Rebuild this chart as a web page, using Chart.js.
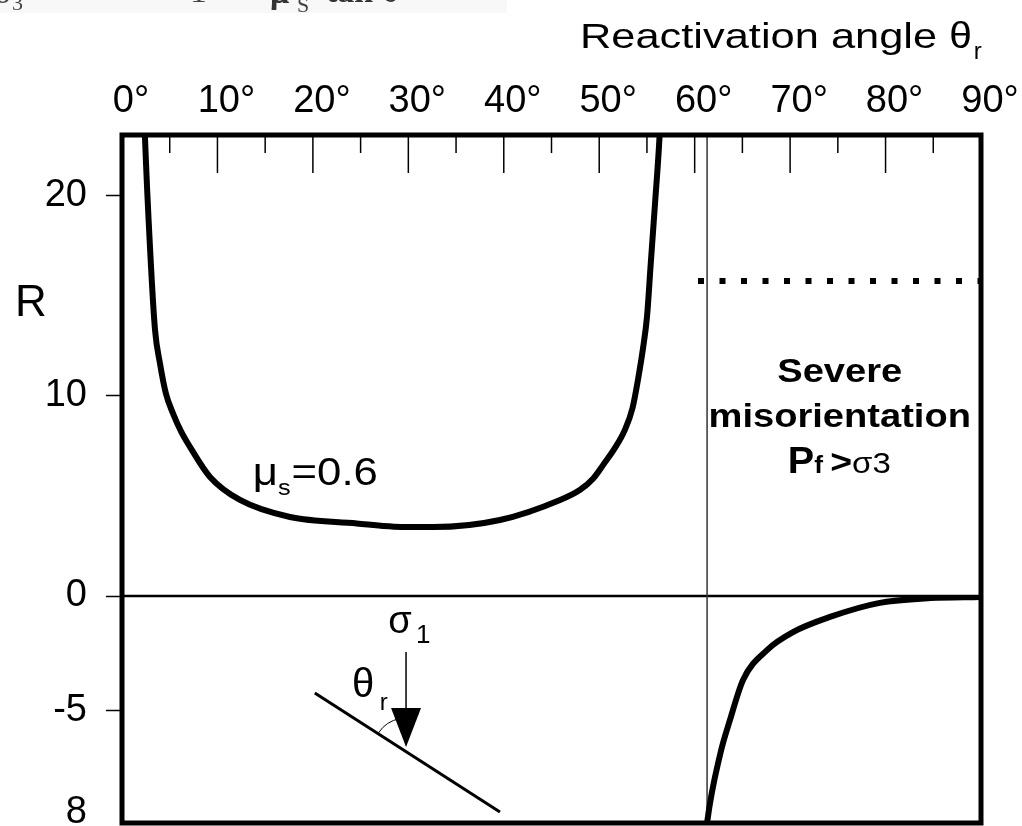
<!DOCTYPE html>
<html>
<head>
<meta charset="utf-8">
<script src="https://cdn.jsdelivr.net/npm/chart.js@4.4.1/dist/chart.umd.min.js"></script>
<style>
  html, body { margin: 0; padding: 0; background: #fff; }
</style>
</head>
<body>
<canvas id="chart" width="1022" height="826"></canvas>
<script>
// R against reactivation angle (deg), mu_s = 0.6 : the U-shaped positive branch
const thetaUp = [2.3, 2.41, 2.93, 3.46, 3.98, 4.6, 5.35, 6.2, 7.12, 9.22, 12.36, 17.6, 24.6, 28.5, 32.6, 39.6, 45.9, 48.0, 49.35, 50.5, 51.6, 52.7, 53.5, 54.1, 54.6, 55.0, 55.4, 55.85, 56.3, 56.45];
const rUp = [24.5, 22.85, 17.42, 13.27, 11.6, 10.1, 9.1, 8.2, 7.44, 5.94, 4.79, 3.94, 3.62, 3.46, 3.44, 3.79, 4.79, 5.3, 5.85, 6.6, 7.35, 8.3, 9.4, 10.9, 12.4, 13.9, 16.6, 19.6, 22.75, 24.3];
// negative branch beyond the lock-up angle
const thetaDown = [61.2, 61.3, 62.7, 63.7, 65.07, 67.58, 70.3, 74.18, 79.4, 84.7, 89.9];
const rDown = [-10.3, -9.87, -6.83, -5.39, -3.65, -2.35, -1.57, -0.91, -0.30, -0.09, -0.04];
// P_f > sigma3 level (dotted)
const cutTheta = [60.35, 90];
const cutR = [15.72, 15.72];
const lockAngle = 61.3;

// axes
const xTicks = [0, 10, 20, 30, 40, 50, 60, 70, 80, 90];
const xTickLabels = ['0°', '10°', '20°', '30°', '40°', '50°', '60°', '70°', '80°', '90°'];
const rUpTicks = [0, 10, 20];
const rUpLabels = ['0', '10', '20'];
const rDownTicks = [-5, -9.4];
const rDownLabels = ['-5', '8'];

const SANS = '"Liberation Sans", Arial, Helvetica, sans-serif';

function pts(xs, ys) {
  return xs.map((v, i) => ({ x: v, y: ys[i] }));
}

function line(ctx, x1, y1, x2, y2) {
  ctx.beginPath();
  ctx.moveTo(x1, y1);
  ctx.lineTo(x2, y2);
  ctx.stroke();
}

function text(ctx, s, x, y, font, opts = {}) {
  ctx.save();
  ctx.font = font;
  ctx.fillStyle = opts.color || '#000';
  ctx.textAlign = opts.align || 'left';
  ctx.textBaseline = 'alphabetic';
  ctx.translate(x, y);
  ctx.scale(opts.sx || 1, 1);
  ctx.fillText(s, 0, 0);
  const w = ctx.measureText(s).width * (opts.sx || 1);
  ctx.restore();
  return w;
}

// no automatic label padding, the frame is fixed
function noPad(ax) {
  ax.paddingTop = 0;
  ax.paddingBottom = 0;
  ax.paddingLeft = 0;
  ax.paddingRight = 0;
}

// frame, reference lines, inner ticks and the labels drawn on top
const sketch = {
  id: 'sketch',
  beforeDatasetsDraw(chart) {
    const { ctx, chartArea: a, scales } = chart;
    const x = scales.x, yPos = scales.yPos;
    ctx.save();
    ctx.strokeStyle = '#000';
    const y0 = yPos.getPixelForValue(0);
    ctx.lineWidth = 2.5;
    line(ctx, a.left, y0, a.right, y0);

    ctx.strokeStyle = '#333';
    ctx.lineWidth = 1.5;
    const xl = x.getPixelForValue(lockAngle);
    line(ctx, xl, a.top, xl, a.bottom);

    ctx.strokeStyle = '#000';
    for (let v = 5; v < 90; v += 5) {
      const px = x.getPixelForValue(v);
      line(ctx, px, a.top, px, a.top + (v % 10 === 0 ? 38 : 18));
    }
    ctx.restore();
  },
  afterDraw(chart) {
    const { ctx, chartArea: a, scales } = chart;
    const x = scales.x, yPos = scales.yPos, yNeg = scales.yNeg;
    const P = (t, r) => [x.getPixelForValue(t), r >= 0 ? yPos.getPixelForValue(r) : yNeg.getPixelForValue(r)];

    ctx.save();
    ctx.strokeStyle = '#000';
    ctx.lineWidth = 5;
    ctx.strokeRect(a.left, a.top, a.right - a.left, a.bottom - a.top);
    ctx.restore();

    // formula strip cut off at the top edge
    ctx.save();
    ctx.fillStyle = '#f8f8f8';
    ctx.fillRect(0, 0, 507, 13);
    ctx.restore();
    text(ctx, 'σ', -6, 3, '34px "Liberation Serif", serif', { color: '#444' });
    text(ctx, '3', 12, 10, '22px "Liberation Serif", serif', { color: '#444' });
    text(ctx, '1 −', 190, 2, '34px "Liberation Serif", serif', { color: '#444' });
    text(ctx, 'μ', 270, 3, 'bold 34px "Liberation Serif", serif', { color: '#333' });
    text(ctx, 'S', 297, 12, '22px "Liberation Serif", serif', { color: '#444' });
    text(ctx, 'tan θ', 326, 2, 'bold 34px "Liberation Serif", serif', { color: '#333' });

    // axis titles
    let w = text(ctx, 'Reactivation angle ', 580, 48, '35px ' + SANS, { sx: 1.24 });
    w += text(ctx, 'θ', 580 + w, 48, '37px ' + SANS, { sx: 1.1 });
    text(ctx, 'r', 582 + w, 59, '24px ' + SANS);
    text(ctx, 'R', 15, 316, '44px ' + SANS);

    // curve label
    let p = P(13.7, 5.54);
    w = text(ctx, 'μ', p[0], p[1], '38px ' + SANS, { sx: 1.15 });
    w += text(ctx, 's', p[0] + w, p[1] + 10, '22px ' + SANS, { sx: 1.15 });
    text(ctx, '=0.6', p[0] + w + 1, p[1], '38px ' + SANS, { sx: 1.15 });

    // severe misorientation block
    p = P(75.2, 10.68);
    text(ctx, 'Severe', p[0], p[1], 'bold 34px ' + SANS, { align: 'center', sx: 1.12 });
    p = P(75.2, 8.43);
    text(ctx, 'misorientation', p[0], p[1], 'bold 34px ' + SANS, { align: 'center', sx: 1.12 });
    p = P(75.2, 6.14);
    let px = p[0] - 52;
    px += text(ctx, 'P', px, p[1], 'bold 36px ' + SANS, { sx: 1.1 });
    px += text(ctx, 'f ', px, p[1], 'bold 24px ' + SANS, { sx: 1.1 });
    px += text(ctx, '>', px, p[1], 'bold 34px ' + SANS, { sx: 1.1 });
    px += text(ctx, 'σ', px, p[1], '30px ' + SANS, { sx: 1.1 });
    text(ctx, '3', px, p[1], '30px ' + SANS, { sx: 1.1 });

    // fault sketch with sigma1 arrow
    ctx.save();
    ctx.strokeStyle = '#000';
    ctx.fillStyle = '#000';
    ctx.lineWidth = 3;
    const f1 = P(20.2, -4.22), f2 = P(39.6, -9.39);
    line(ctx, f1[0], f1[1], f2[0], f2[1]);
    ctx.lineWidth = 1.5;
    const s1 = P(29.76, -2.43), s2 = P(29.76, -4.9);
    line(ctx, s1[0], s1[1], s2[0], s2[1]);
    const hb = P(29.76, -4.87), tip = P(29.76, -6.57);
    ctx.beginPath();
    ctx.moveTo(hb[0] - 15, hb[1]);
    ctx.lineTo(hb[0] + 15, hb[1]);
    ctx.lineTo(tip[0], tip[1]);
    ctx.closePath();
    ctx.fill();
    const c = P(29.76, -6.74);
    ctx.lineWidth = 1;
    ctx.beginPath();
    ctx.arc(c[0], c[1], 33, -147 * Math.PI / 180, -100 * Math.PI / 180);
    ctx.stroke();
    ctx.restore();

    p = P(27.9, -1.61);
    text(ctx, 'σ', p[0], p[1], '38px ' + SANS);
    p = P(30.8, -2.04);
    text(ctx, '1', p[0], p[1], '26px ' + SANS);
    p = P(24.1, -4.39);
    text(ctx, 'θ', p[0], p[1], '40px ' + SANS);
    p = P(27.0, -4.96);
    text(ctx, 'r', p[0], p[1], '24px ' + SANS);
  }
};

const ctx = document.getElementById('chart').getContext('2d');

new Chart(ctx, {
  type: 'line',
  data: {
    datasets: [{
      data: pts(thetaUp, rUp),
      yAxisID: 'yPos',
      borderColor: '#000',
      borderWidth: 6,
      pointRadius: 0,
      cubicInterpolationMode: 'monotone',
      clip: 0
    }, {
      data: pts(thetaDown, rDown),
      yAxisID: 'yNeg',
      borderColor: '#000',
      borderWidth: 6,
      pointRadius: 0,
      cubicInterpolationMode: 'monotone',
      clip: 0
    }, {
      data: pts(cutTheta, cutR),
      yAxisID: 'yPos',
      borderColor: '#000',
      borderWidth: 6,
      borderDash: [6, 15.5],
      borderCapStyle: 'butt',
      pointRadius: 0,
      clip: 0
    }]
  },
  options: {
    responsive: false,
    animation: false,
    layout: { autoPadding: false, padding: { left: 0, top: 0, right: 41, bottom: 3 } },
    plugins: { legend: { display: false }, tooltip: { enabled: false }, title: { display: false } },
    scales: {
      x: {
        type: 'linear',
        position: 'top',
        min: 0,
        max: 90,
        afterBuildTicks: ax => { ax.ticks = xTicks.map(v => ({ value: v })); },
        afterFit: ax => { ax.height = 135; noPad(ax); },
        grid: { display: false, drawTicks: false },
        border: { display: false },
        ticks: {
          font: { family: SANS, size: 38 },
          color: '#000',
          padding: 11,
          labelOffset: 9,
          maxRotation: 0,
          autoSkip: false,
          callback: (v, i) => xTickLabels[i]
        }
      },
      yPos: {
        type: 'linear',
        position: 'left',
        stack: 'r',
        stackWeight: 461,
        weight: 2,
        min: 0,
        max: 23,
        afterBuildTicks: ax => { ax.ticks = rUpTicks.map(v => ({ value: v })); },
        afterFit: ax => { ax.width = 122; noPad(ax); },
        grid: { drawOnChartArea: false, drawTicks: true, tickLength: 16, tickColor: '#000', tickWidth: 1.5 },
        border: { display: false },
        ticks: {
          font: { family: SANS, size: 38 },
          color: '#000',
          padding: 19,
          callback: (v, i) => rUpLabels[i]
        }
      },
      yNeg: {
        type: 'linear',
        position: 'left',
        stack: 'r',
        stackWeight: 227,
        weight: 1,
        min: -9.87,
        max: 0,
        afterBuildTicks: ax => { ax.ticks = rDownTicks.map(v => ({ value: v })); },
        afterFit: ax => { ax.width = 122; noPad(ax); },
        grid: {
          drawOnChartArea: false,
          drawTicks: true,
          tickLength: 16,
          tickWidth: 1.5,
          tickColor: c => (c.tick && c.tick.value === rDownTicks[1]) ? 'rgba(0,0,0,0)' : '#000'
        },
        border: { display: false },
        ticks: {
          font: { family: SANS, size: 38 },
          color: '#000',
          padding: 19,
          callback: (v, i) => rDownLabels[i]
        }
      }
    }
  },
  plugins: [sketch]
});
</script>
</body>
</html>
